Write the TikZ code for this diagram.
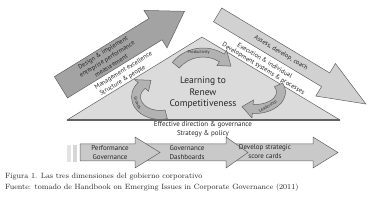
\documentclass[tikz,border=0pt]{standalone}
\usepackage{fontspec}
\setsansfont{PT Sans}
\usetikzlibrary{calc}
\tikzset{>=latex}
\definecolor{darkfill}{gray}{0.64}
\definecolor{lightfill}{gray}{0.82}
\definecolor{pyramidfill}{gray}{0.86}
\definecolor{cyclefill}{gray}{0.70}
\definecolor{stepfill}{gray}{0.79}
\definecolor{edgegray}{gray}{0.38}
\definecolor{inkgray}{gray}{0.15}
\tikzstyle{pyramidface} = [fill=pyramidfill, draw=edgegray, line width=0.5]
\tikzstyle{leftarrow} = [fill=darkfill, draw=edgegray, line width=0.5]
\tikzstyle{rightarrow} = [fill=lightfill, draw=edgegray, line width=0.5]
\tikzstyle{cyclearrow} = [fill=cyclefill, draw=edgegray, line width=0.5]
\tikzstyle{stagearrow} = [fill=stepfill, draw=edgegray, line width=0.5]
\tikzstyle{bandtext} = [%
					font=\sffamily\fontsize{6.4}{7.8}\selectfont,
					text=inkgray,
					inner sep=0pt]
\tikzstyle{stagetext} = [%
					font=\sffamily\fontsize{7}{8.6}\selectfont,
					text=inkgray,
					inner sep=0pt]
\tikzstyle{cycletext} = [%
					font=\sffamily\fontsize{4.3}{5}\selectfont,
					text=inkgray,
					inner sep=0pt]
\tikzstyle{captiontext} = [%
					font=\rmfamily\fontsize{7.6}{8}\selectfont,
					text=inkgray,
					inner sep=0pt, anchor=base west]

\begin{document}
\begin{tikzpicture}[x=1pt,y=1pt]
	\useasboundingbox (0,0) rectangle (390,200);

	% Coordinates
	\coordinate (L) at (67,80);
	\coordinate (A) at (202,163);
	\coordinate (R) at (340,80);

	% Pyramid
	\draw[pyramidface] (L) -- (A) -- (R) -- cycle;
	\draw[edgegray, line width=1.1] (L) -- (R);

	% Left band
	\begin{scope}[shift={(L)}, rotate=31.6, transform shape]
		\draw[leftarrow] (12,18.5) -- (123,18.5) -- (123,9) -- (157,31) -- (123,53) -- (123,43.5) -- (12,43.5) -- cycle;
		\node[bandtext, align=center] (design) at (66,31) {Design \& implement\\enterprise performance\\measurement};
		\node[bandtext] (mgmt) at (74,12.3) {Management excellence};
		\node[bandtext] (struct) at (68,4.2) {Structure \& people};
	\end{scope}

	% Right band
	\begin{scope}[shift={(A)}, rotate=-31, transform shape]
		\draw[rightarrow] (2,19) -- (128,19) -- (128,8) -- (175,27) -- (128,46) -- (128,35) -- (2,35) -- cycle;
		\node[bandtext] (assess) at (76,27) {Assess, develop, coach};
		\node[bandtext] (exec) at (66,12.3) {Execution \& individual};
		\node[bandtext] (devsys) at (69,4.2) {Development systems \& processes};
	\end{scope}

	% Cycle
	%% Productivity
	\begin{scope}[shift={(203,112)}]
		\draw[cyclearrow] (140:40pt) arc[start angle=140, end angle=58, radius=40pt] -- (58:44.5pt) -- (38:35.5pt) -- (58:26.5pt) -- (58:31pt) arc[start angle=58, end angle=140, radius=31pt] -- cycle;
		\node[cycletext] (prod) at (97:35.5pt) {Productivity};
	\end{scope}
	%% Growth
	\begin{scope}[shift={(160,103)}]
		\draw[cyclearrow] (285:28.5pt and 22.5pt) arc[start angle=285, end angle=140, x radius=28.5pt, y radius=22.5pt] -- (140:33pt and 27pt) -- (112:24pt and 18pt) -- (140:15pt and 9pt) -- (140:19.5pt and 13.5pt) arc[start angle=140, end angle=285, x radius=19.5pt, y radius=13.5pt] -- cycle;
		\node[cycletext, rotate=-70] (growth) at (200:24pt and 18pt) {Growth};
	\end{scope}
	%% Leadership
	\begin{scope}[shift={(255,108)}]
		\draw[cyclearrow] (25:30.5pt and 21.5pt) arc[start angle=25, end angle=-95, x radius=30.5pt, y radius=21.5pt] -- (-95:35pt and 26pt) -- (-120:26pt and 17pt) -- (-95:17pt and 8pt) -- (-95:21.5pt and 12.5pt) arc[start angle=-95, end angle=25, x radius=21.5pt, y radius=12.5pt] -- cycle;
		\node[cycletext, rotate=30] (lead) at (-60:26pt and 17pt) {Leadership};
	\end{scope}

	% Nodes
	\node[font=\sffamily\fontsize{9.5}{11.5}\selectfont, text=inkgray, align=center] (core) at (203,107) {Learning to\\Renew\\Competitiveness};
	\node[stagetext] (direction) at (203,75) {Effective direction \& governance};
	\node[stagetext] (policy) at (203,66) {Strategy \& policy};

	% Stages
	\fill[gray!22] (67,38) rectangle (70.5,55);
	\fill[gray!32] (73,38) rectangle (77,55);
	\draw[stagearrow] (227,39) -- (313,39) -- (313,32) -- (338,47.5) -- (313,63) -- (313,56) -- (227,56) -- cycle;
	\draw[stagearrow] (135,39) -- (226,39) -- (226,32) -- (248,47.5) -- (226,63) -- (226,56) -- (135,56) -- cycle;
	\draw[stagearrow] (80,39) -- (135,39) -- (135,32) -- (160,47.5) -- (135,63) -- (135,56) -- (80,56) -- cycle;
	\node[stagetext, align=center] (perf) at (110,47.5) {Performance\\Governance};
	\node[stagetext, align=center] (dash) at (187,47.5) {Governance\\Dashboards};
	\node[stagetext, align=center] (cards) at (265,48.5) {Develop strategic\\score cards};

	% Caption
	\node[captiontext] (fig) at (5,21) {Figura 1. Las tres dimensiones del gobierno corporativo};
	\node[captiontext] (source) at (5,10) {Fuente: tomado de Handbook on Emerging Issues in Corporate Governance (2011)};
\end{tikzpicture}
\end{document}
